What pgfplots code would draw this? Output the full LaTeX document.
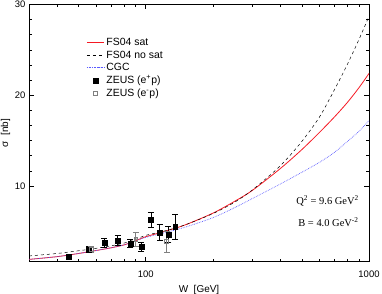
\documentclass[border=0pt]{standalone}
\usepackage{pgfplots}
\pgfplotsset{compat=1.18}
\usepackage{fontspec}
\setmainfont{Liberation Sans}
\newfontfamily\seriffont{Liberation Serif}
\definecolor{fsred}{RGB}{245,25,35}
\definecolor{cgcblue}{RGB}{90,90,255}
\begin{document}
\begin{tikzpicture}
\begin{axis}[
  scale only axis, width=340bp, height=257bp,
  xmode=log, xmin=30, xmax=1000, ymin=1.667, ymax=30,
  xtick={100,1000}, xticklabels={100,1000},
  minor xtick={40,50,60,70,80,90,200,300,400,500,600,700,800,900},
  ytick={10,20,30}, minor y tick num=5,
  tick align=inside, major tick length=5pt, minor tick length=3pt,
  tick style={black, line width=0.5pt},
  axis line style={line width=0.6pt},
  /pgf/number format/assume math mode=true,
  tick label style={font=\fontsize{9.5}{11}\selectfont},
  xticklabel style={yshift=-6bp},
  xlabel={W\ \ [GeV]}, ylabel={σ\ \ [nb]},
  label style={font=\fontsize{10}{12}\selectfont},
  xlabel style={yshift=-1pt},
  ylabel style={yshift=-2pt},
  legend style={draw=none, fill=none, at={(0.16,0.905)}, anchor=north west,
    font=\fontsize{10.5}{12}\selectfont, row sep=-0.3pt,
    legend cell align=left},
]
\addlegendimage{empty legend}
\addlegendentry{}
\addplot[color=fsred, line width=0.8pt, smooth] coordinates {
(30,1.9) (40,2.2) (50,2.55) (60,2.88) (70,3.18) (80,3.5) (90,3.95) (100,4.4)
(120,4.95) (150,5.7) (200,7.0) (250,8.3) (300,9.5) (400,11.9) (500,14.0)
(600,15.9) (700,17.6) (800,19.2) (900,20.8) (1000,22.4)};
\addlegendentry{FS04 sat}
\addplot[black, dashed, line width=0.5pt, smooth] coordinates {
(30,2.28) (40,2.55) (50,2.85) (60,3.12) (70,3.4) (80,3.7) (90,4.1) (100,4.55)
(120,5.0) (150,5.7) (200,6.95) (250,8.2) (300,9.55) (400,12.2) (500,14.9)
(600,17.6) (700,20.6) (800,23.4) (900,26.1) (1000,28.7)};
\addlegendentry{FS04 no sat}
\addplot[cgcblue, densely dotted, line width=0.7pt, smooth] coordinates {
(30,1.9) (40,2.2) (50,2.55) (60,2.88) (70,3.18) (80,3.5) (90,3.92) (100,4.33)
(120,4.8) (150,5.45) (200,6.5) (250,7.6) (300,8.6) (400,10.2) (500,11.5)
(600,12.6) (700,13.7) (800,14.9) (900,16.0) (1000,17.2)};
\addlegendentry{CGC}
\addplot[only marks, mark=square*, mark size=2.5pt, black,
  error bars/.cd, y dir=both, y explicit,
  error bar style={black, line width=0.5pt},
  error mark options={black, mark size=3pt, rotate=90}]
  table[x=W, y=s, y error=e] {
W s e
45.3 2.2 0.2
55.7 3.02 0.3
65.2 3.75 0.5
74.8 3.97 0.55
85.3 3.64 0.45
95.5 3.31 0.5
105.5 6.28 0.8
115.3 4.89 0.9
126.3 4.66 0.9
135.5 5.51 1.4
};
\addlegendentry{ZEUS (e\textsuperscript{+}p)}
\addplot[only marks, mark=square, mark size=1.9pt, gray, line width=0.6pt,
  error bars/.cd, y dir=both, y explicit,
  error bar style={gray, line width=0.5pt},
  error mark options={gray, mark size=3pt, rotate=90}]
  table[x=W, y=s, y error=e] {
W s e
57 3.0 0.3
90.2 4.12 0.8
124 3.86 1.2
};
\addlegendentry{ZEUS (e\textsuperscript{-}p)}
\node[anchor=west, font=\seriffont\fontsize{10.5}{12}\selectfont] at (rel axis cs:0.776,0.237) {Q\textsuperscript{2} = 9.6 GeV\textsuperscript{2}};
\node[anchor=west, font=\seriffont\fontsize{10.5}{12}\selectfont] at (rel axis cs:0.782,0.153) {B = 4.0 GeV\textsuperscript{-2}};
\coordinate (bl) at (rel axis cs:0,0);
\coordinate (tr) at (rel axis cs:1,1);
\end{axis}
\pgfresetboundingbox
\useasboundingbox ([shift={(-29bp,-32.4bp)}]bl) rectangle ([shift={(13bp,4.5bp)}]tr);
\end{tikzpicture}
\end{document}
